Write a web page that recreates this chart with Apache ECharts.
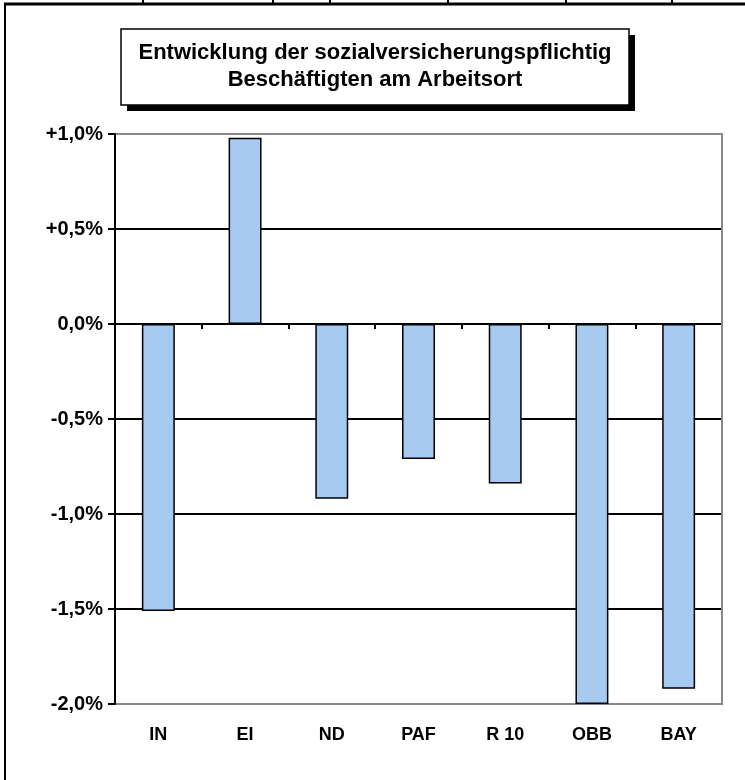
<!DOCTYPE html>
<html>
<head>
<meta charset="utf-8">
<script src="https://cdn.jsdelivr.net/npm/echarts@6/dist/echarts.min.js"></script>
<style>
html,body{margin:0;padding:0;background:#fff;}
#chart{width:745px;height:780px;}
</style>
</head>
<body>
<div id="chart"></div>
<script>
const categories = ['IN', 'EI', 'ND', 'PAF', 'R 10', 'OBB', 'BAY'];
const values = [-1.51, 0.98, -0.92, -0.71, -0.84, -2.0, -1.92];
const yTickLabels = {'-2': '-2,0%', '-1.5': '-1,5%', '-1': '-1,0%', '-0.5': '-0,5%', '0': '0,0%', '0.5': '+0,5%', '1': '+1,0%'};
const titleLines = ['Entwicklung der sozialversicherungspflichtig', 'Beschäftigten am Arbeitsort'];

const FONT = '"Liberation Sans", Arial, sans-serif';
const chart = echarts.init(document.getElementById('chart'), null, {renderer: 'canvas'});

const option = {
  animation: false,
  backgroundColor: '#fff',
  grid: {left: 115, top: 134, right: 23, bottom: 76, show: false},
  xAxis: [
    {
      type: 'category', data: categories, position: 'bottom',
      axisLine: {show: false, onZero: false},
      axisTick: {show: false},
      axisLabel: {color: '#000', fontFamily: FONT, fontWeight: 'bold', fontSize: 18, margin: 22},
      splitLine: {show: false}
    },
    {
      type: 'category', data: categories, position: 'bottom',
      axisLine: {show: true, onZero: true, lineStyle: {color: '#000', width: 2}},
      axisTick: {show: true, length: 5, lineStyle: {color: '#000', width: 2}},
      axisLabel: {show: false},
      splitLine: {show: false}
    }
  ],
  yAxis: {
    type: 'value', min: -2, max: 1, interval: 0.5,
    axisLine: {show: true, lineStyle: {color: '#000', width: 2}},
    axisTick: {show: true, length: 7, lineStyle: {color: '#000', width: 2}},
    axisLabel: {
      color: '#000', fontFamily: FONT, fontWeight: 'bold', fontSize: 20, margin: 12,
      formatter: v => yTickLabels[String(Math.round(v * 10) / 10)] || ''
    },
    splitLine: {show: true, lineStyle: {color: ['#888', '#000', '#000', '#000', '#000', '#000', '#888'], width: 2}}
  },
  series: [{
    type: 'bar', data: values, xAxisIndex: 0, barWidth: '38%',
    itemStyle: {color: '#A6CAF0', borderColor: '#000', borderWidth: 1.5},
    z: 3
  }],
  graphic: [
    {type: 'line', shape: {x1: 722, y1: 133, x2: 722, y2: 705}, style: {stroke: '#888', lineWidth: 2}, z: 1},
    {type: 'line', shape: {x1: 4, y1: 4, x2: 745, y2: 4}, style: {stroke: '#000', lineWidth: 3}},
    {type: 'line', shape: {x1: 5, y1: 4, x2: 5, y2: 780}, style: {stroke: '#000', lineWidth: 2}},
    {type: 'line', shape: {x1: 143, y1: 0, x2: 143, y2: 4}, style: {stroke: '#000', lineWidth: 2}},
    {type: 'line', shape: {x1: 273, y1: 0, x2: 273, y2: 4}, style: {stroke: '#000', lineWidth: 2}},
    {type: 'line', shape: {x1: 330, y1: 0, x2: 330, y2: 4}, style: {stroke: '#000', lineWidth: 2}},
    {type: 'line', shape: {x1: 448, y1: 0, x2: 448, y2: 4}, style: {stroke: '#000', lineWidth: 2}},
    {type: 'line', shape: {x1: 566, y1: 0, x2: 566, y2: 4}, style: {stroke: '#000', lineWidth: 2}},
    {type: 'line', shape: {x1: 672, y1: 0, x2: 672, y2: 4}, style: {stroke: '#000', lineWidth: 2}},
    {type: 'rect', shape: {x: 127, y: 35, width: 508, height: 76}, style: {fill: '#000'}, z: 10},
    {type: 'rect', shape: {x: 121, y: 29, width: 508, height: 76}, style: {fill: '#fff', stroke: '#000', lineWidth: 1.5}, z: 11},
    {type: 'text', x: 375, y: 53, style: {text: titleLines[0], fill: '#000', font: 'bold 22px ' + FONT, align: 'center', verticalAlign: 'middle'}, z: 12},
    {type: 'text', x: 375, y: 80, style: {text: titleLines[1], fill: '#000', font: 'bold 22px ' + FONT, align: 'center', verticalAlign: 'middle'}, z: 12}
  ]
};
chart.setOption(option);
</script>
</body>
</html>
